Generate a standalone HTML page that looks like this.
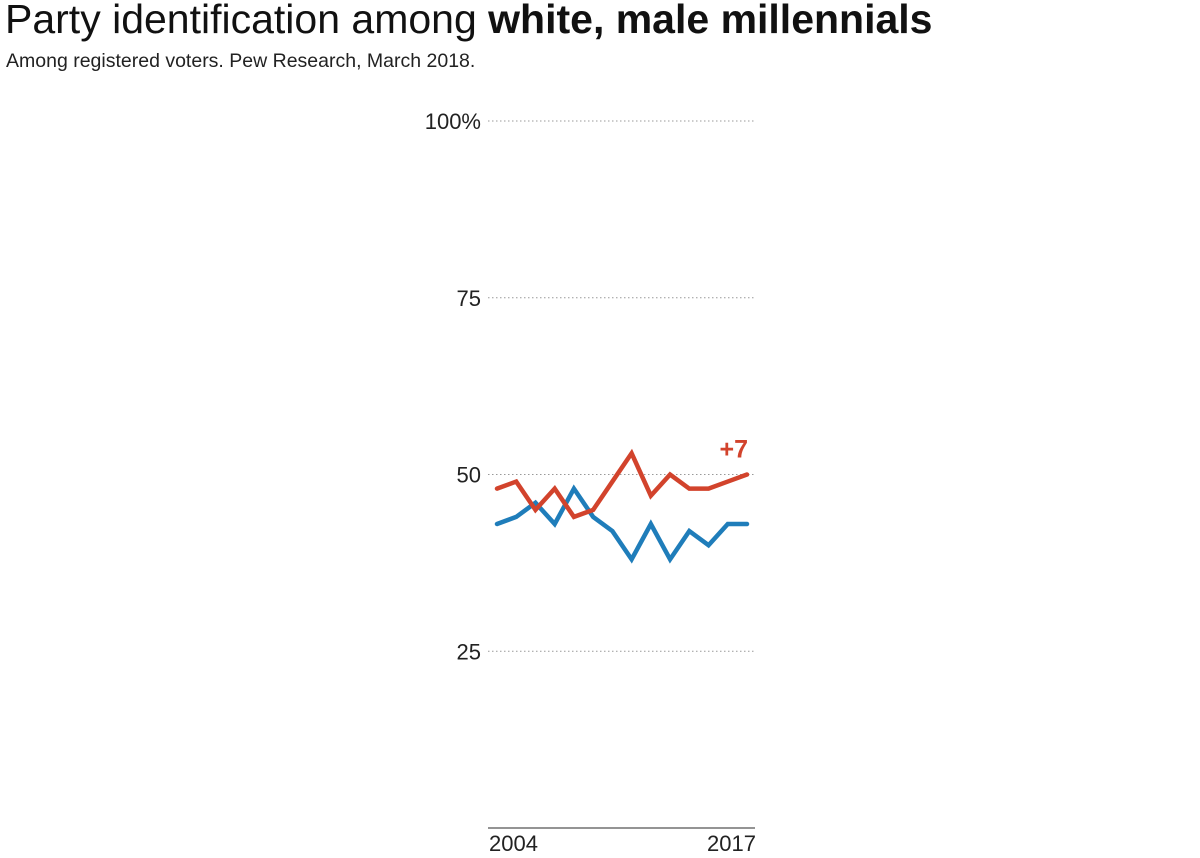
<!DOCTYPE html>
<html><head><meta charset="utf-8"><style>
body{margin:0;background:#fff;font-family:"Liberation Sans",sans-serif;}
#t{position:absolute;left:5px;top:-4px;font-size:41px;color:#111;margin:0;font-weight:normal;letter-spacing:0px}
#s{position:absolute;left:6px;top:50px;font-size:19.5px;color:#222}
</style></head><body>
<h1 id="t">Party identification among <b>white, male millennials</b></h1>
<div id="s">Among registered voters. Pew Research, March 2018.</div>
<svg id="c" width="1200" height="858" style="position:absolute;left:0;top:0"></svg>
<script>
const years=[2004,2005,2006,2007,2008,2009,2010,2011,2012,2013,2014,2015,2016,2017];
const rep=[48,49,45,48,44,45,49,53,47,50,48,48,49,50];
const dem=[43,44,46,43,48,44,42,38,43,38,42,40,43,43];
const yTicks=[25,50,75,100];
const yLabels=["25","50","75","100%"];
const xLabels=[2004,2017];
const NS="http://www.w3.org/2000/svg";
const svg=document.getElementById('c');
const x=v=>497+(v-2004)*(747-497)/13;
const y=v=>828-v*7.07;
function el(t,a){const e=document.createElementNS(NS,t);for(const k in a)e.setAttribute(k,a[k]);svg.appendChild(e);return e;}
yTicks.forEach((v,i)=>{
 const g=el('line',{x1:488,x2:755,y1:y(v),y2:y(v),stroke:'#999','stroke-dasharray':'1.5 2.5','stroke-width':1});
 
 
 const t=el('text',{x:481,y:y(v)+8,'text-anchor':'end','font-size':22,fill:'#222','font-family':'Liberation Sans'});
 t.textContent=yLabels[i];
 
 
});
const ax=el('line',{x1:488,x2:755,y1:828,y2:828,stroke:'#555','stroke-width':1.2});


xLabels.forEach((v,i)=>{
 const t=el('text',{x:i?756:489,y:851,'text-anchor':i?'end':'start','font-size':22,fill:'#222','font-family':'Liberation Sans'});
 t.textContent=v;
 
 
});
function line(d,c,n){
 const p=el('polyline',{points:d.map((v,i)=>x(years[i])+','+y(v)).join(' '),fill:'none',stroke:c,'stroke-width':4.5,'stroke-linejoin':'miter','stroke-linecap':'round'});
 
 
}
line(dem,'#1f7dba','democrat-line');
line(rep,'#d2432c','republican-line');
const lb=el('text',{x:748,y:y(rep[rep.length-1])-17,'text-anchor':'end','font-size':25,'font-weight':'bold',fill:'#d2432c','font-family':'Liberation Sans'});
lb.textContent='+7';


</script>
</body></html>
